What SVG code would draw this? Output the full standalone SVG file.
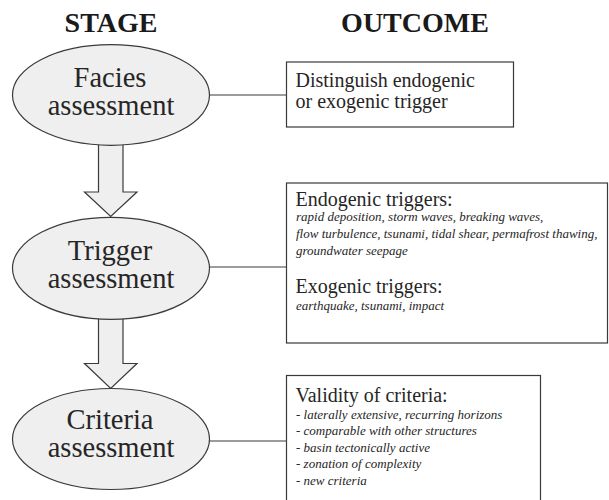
<svg xmlns="http://www.w3.org/2000/svg" width="609" height="500" viewBox="0 0 609 500">
<style>
text{font-family:'Liberation Serif','Times New Roman',serif}
.hdr{font-weight:bold;font-size:28px;fill:#1a1a1a;text-anchor:middle}
.stage{fill:#efefef;stroke:#3a3a3a;stroke-width:1.2}
.stxt{font-size:28.5px;fill:#262626;text-anchor:middle}
.box{fill:#fff;stroke:#3a3a3a;stroke-width:1.2}
.btxt{font-size:20px;fill:#262626}
.itxt{font-size:13px;font-style:italic;fill:#262626}
.conn{stroke:#3a3a3a;stroke-width:1.2;fill:none}
.arrow{fill:#efefef;stroke:#3a3a3a;stroke-width:1.2;stroke-linejoin:miter}
</style>
<text class="hdr" x="111" y="32">STAGE</text>
<text class="hdr" x="415" y="32">OUTCOME</text>
<g id="connectors">
<line class="conn" x1="209" y1="95" x2="286" y2="95"/>
<line class="conn" x1="209" y1="267" x2="286" y2="267"/>
<line class="conn" x1="209" y1="441" x2="286" y2="441"/>
<path class="arrow" d="M98.5,140 V192 H84.5 L110.7,216.5 L137,192 H123 V140 Z"/>
<path class="arrow" d="M98.5,312 V363.5 H84.5 L110.7,388.5 L137,363.5 H123 V312 Z"/>
</g>
<g id="stage1">
<ellipse class="stage" cx="111" cy="95" rx="98.5" ry="50.3"/>
<text class="stxt" x="110" y="87">Facies</text>
<text class="stxt" x="111" y="115">assessment</text>
</g>
<g id="stage2">
<ellipse class="stage" cx="111" cy="268.3" rx="98.5" ry="51"/>
<text class="stxt" x="110" y="260">Trigger</text>
<text class="stxt" x="111" y="287.5">assessment</text>
</g>
<g id="stage3">
<ellipse class="stage" cx="111" cy="439" rx="98.5" ry="50.5"/>
<text class="stxt" x="110" y="429">Criteria</text>
<text class="stxt" x="111" y="457">assessment</text>
</g>
<g id="outcome1">
<rect class="box" x="286.5" y="62" width="227" height="65"/>
<text class="btxt" x="295.5" y="86.5">Distinguish endogenic</text>
<text class="btxt" x="295.5" y="108">or exogenic trigger</text>
</g>
<g id="outcome2">
<rect class="box" x="286.5" y="183" width="321" height="160"/>
<text class="btxt" x="295.5" y="205.5">Endogenic triggers:</text>
<text class="itxt" x="296" y="221">rapid deposition, storm waves, breaking waves,</text>
<text class="itxt" x="296" y="238.3">flow turbulence, tsunami, tidal shear, permafrost thawing,</text>
<text class="itxt" x="296" y="255">groundwater seepage</text>
<text class="btxt" x="295.5" y="293.3">Exogenic triggers:</text>
<text class="itxt" x="296" y="310">earthquake, tsunami, impact</text>
</g>
<g id="outcome3">
<rect class="box" x="286.5" y="375.5" width="254" height="130"/>
<text class="btxt" x="295.5" y="401.7">Validity of criteria:</text>
<text class="itxt" x="296" y="419">- laterally extensive, recurring horizons</text>
<text class="itxt" x="296" y="435.3">- comparable with other structures</text>
<text class="itxt" x="296" y="451.6">- basin tectonically active</text>
<text class="itxt" x="296" y="468">- zonation of complexity</text>
<text class="itxt" x="296" y="485">- new criteria</text>
</g>
</svg>
